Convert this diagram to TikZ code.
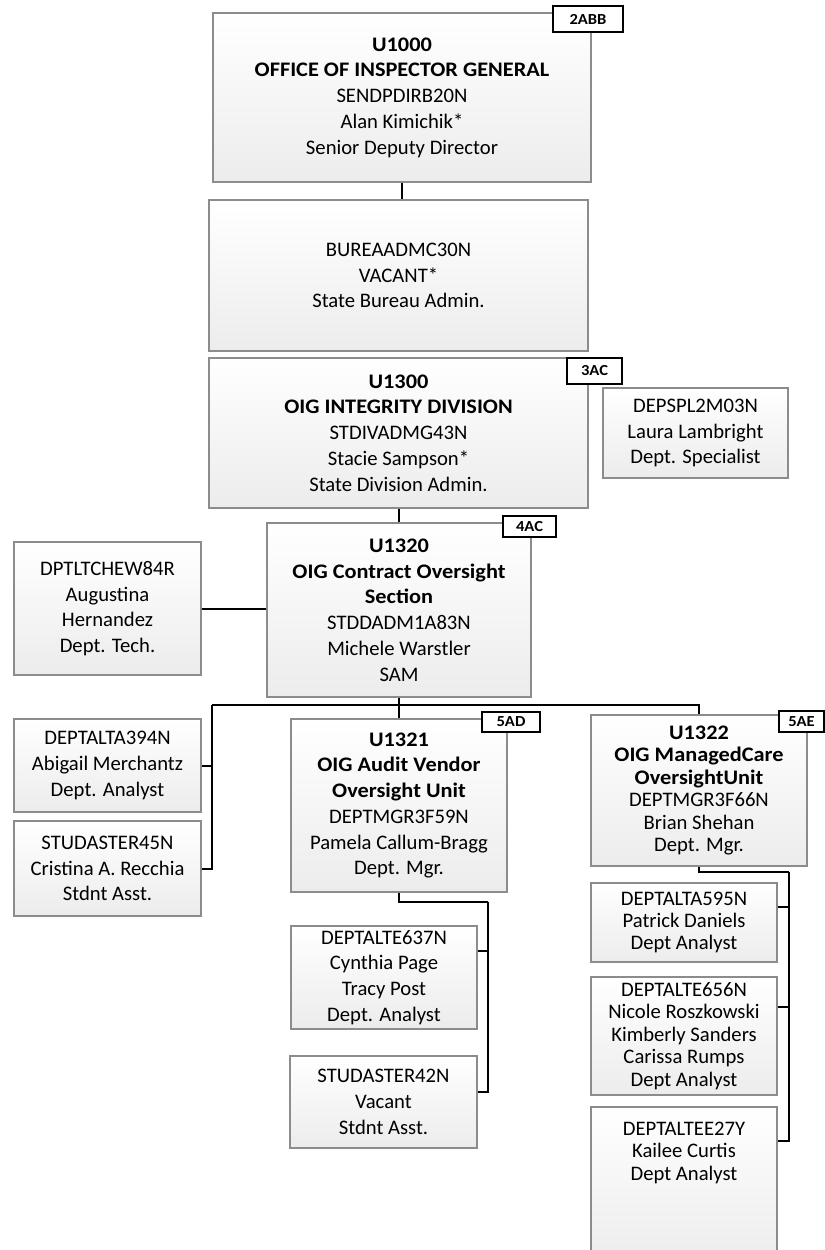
\documentclass[tikz,border=0pt]{standalone}
\usepackage{fontspec}
\setmainfont{Carlito}[BoldFeatures={FakeStretch=1.08}]
\usetikzlibrary{calc}
\definecolor{bordergray}{RGB}{140,140,140}
\definecolor{shadebot}{RGB}{236,236,236}
\newcommand\boxfont{\fontsize{15.5}{19.3}\selectfont}
\newcommand\tightfont{\fontsize{15.5}{16.8}\selectfont}
\tikzset{
  orgbox/.style={draw=bordergray, line width=0.8pt, top color=white, bottom color=shadebot,
    inner sep=0pt, align=center, font=\boxfont},
  tightbox/.style={orgbox, font=\tightfont},
  tagbox/.style={draw=black, line width=1.5pt, fill=white, inner sep=0pt,
    font=\bfseries\fontsize{11.5}{13}\selectfont},
  conn/.style={draw=black, line width=1.5pt}
}
% #1 name, #2 style, #3 x1, #4 y1, #5 x2, #6 y2, #7 text
\newcommand\placebox[7]{\node[#2, minimum width={(#5-#3)*0.75pt}, minimum height={(#6-#4)*0.75pt}] (#1) at ({(#3+#5)/2},{(#4+#6)/2}) {#7};}
\begin{document}
\begin{tikzpicture}[x=0.75pt,y=-0.75pt]
\clip (0,0) rectangle (825,1250);
\fill[white] (0,0) rectangle (825,1250);

% boxes
\placebox{top}{orgbox}{213}{13}{591}{182}{\textbf{U1000}\\\textbf{OFFICE OF INSPECTOR GENERAL}\\SENDPDIRB20N\\Alan Kimichik*\\Senior Deputy Director}
\placebox{bur}{orgbox}{209}{200}{588}{351}{BUREAADMC30N\\VACANT*\\State Bureau Admin.}
\placebox{u1300}{orgbox}{209}{358}{588}{508}{\textbf{U1300}\\\textbf{OIG INTEGRITY DIVISION}\\STDIVADMG43N\\Stacie Sampson*\\State Division Admin.}
\placebox{dep}{orgbox}{603}{388}{788}{478}{DEPSPL2M03N\\Laura Lambright\\Dept. Specialist}
\placebox{u1320}{orgbox}{267}{523}{531}{697}{\textbf{U1320}\\\textbf{OIG Contract Oversight}\\\textbf{Section}\\STDDADM1A83N\\Michele Warstler\\SAM}
\placebox{tech}{orgbox}{14}{542}{201}{675}{DPTLTCHEW84R\\Augustina\\Hernandez\\Dept. Tech.}
\placebox{a394}{orgbox}{14}{719}{201}{812}{DEPTALTA394N\\Abigail Merchantz\\Dept. Analyst}
\placebox{s45}{orgbox}{14}{821}{201}{916}{STUDASTER45N\\Cristina A. Recchia\\Stdnt Asst.}
\placebox{u1321}{orgbox}{291}{719}{507}{892}{\textbf{U1321}\\\textbf{OIG Audit Vendor}\\\textbf{Oversight Unit}\\DEPTMGR3F59N\\Pamela Callum-Bragg\\Dept. Mgr.}
\placebox{u1322}{tightbox}{591}{715}{807}{866}{\textbf{U1322}\\\textbf{OIG ManagedCare}\\\textbf{OversightUnit}\\DEPTMGR3F66N\\Brian Shehan\\Dept. Mgr.}
\placebox{c637}{orgbox}{291}{926}{477}{1029}{DEPTALTE637N\\Cynthia Page\\Tracy Post\\Dept. Analyst}
\placebox{s42}{orgbox}{290}{1056}{477}{1148}{STUDASTER42N\\Vacant\\Stdnt Asst.}
\placebox{a595}{tightbox}{591}{883}{777}{962}{DEPTALTA595N\\Patrick Daniels\\Dept Analyst}
\placebox{a656}{tightbox}{591}{977}{777}{1095}{DEPTALTE656N\\Nicole Roszkowski\\Kimberly Sanders\\Carissa Rumps\\Dept Analyst}
\placebox{ee27}{tightbox}{591}{1107}{777}{1265}{\raisebox{21pt}[0pt][0pt]{\begin{tabular}[c]{@{}c@{}}DEPTALTEE27Y\\Kailee Curtis\\Dept Analyst\end{tabular}}}

% connectors
\coordinate (jl) at (212,705);
\coordinate (jr) at (699,705);
\coordinate (j1) at (488,902);
\coordinate (j2) at (789,872);
\draw[conn] (top.south) -- (top.south |- bur.north);
\draw[conn] (u1300.south) -- (u1300.south |- u1320.north);
\draw[conn] ($(dep.north west)+(0,39)$) -- ($(dep.north west)+(0,39)$ -| u1300.east);
\draw[conn] (tech.east) -- (tech.east -| u1320.west);
\draw[conn] (u1320.south) -- (u1320.south |- u1321.north);
\draw[conn] (jl) -- (jr) -- (jr |- u1322.north);
\draw[conn] (jl) |- (a394.east);
\draw[conn] (jl) |- (s45.east);
\draw[conn] (u1321.south) |- (j1);
\draw[conn] (j1) |- ($(c637.north east)+(0,26)$);
\draw[conn] (j1) |- ($(s42.north east)+(0,37)$);
\draw[conn] (u1322.south) |- (j2);
\draw[conn] (j2) |- ($(a595.north east)+(0,25)$);
\draw[conn] (j2) |- ($(a656.north east)+(0,31)$);
\draw[conn] (j2) |- ($(ee27.north east)+(0,35)$);

% tags
\placebox{t2abb}{tagbox}{553}{6}{623}{32}{2ABB}
\placebox{t3ac}{tagbox}{567}{358}{622}{384}{3AC}
\placebox{t4ac}{tagbox}{503}{516}{556}{537}{4AC}
\placebox{t5ad}{tagbox}{482}{712}{540}{732}{5AD}
\placebox{t5ae}{tagbox}{779}{711}{824}{732}{5AE}
\end{tikzpicture}
\end{document}
